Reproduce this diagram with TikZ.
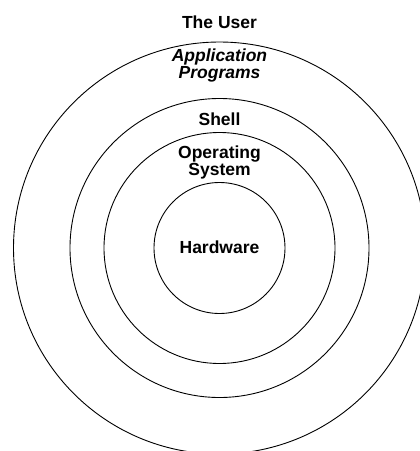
\documentclass[tikz,border=0pt]{standalone}
\usepackage{fontspec}
\setmainfont{Liberation Sans}
\begin{document}
\begin{tikzpicture}[x=1pt,y=-1pt,
  ring/.style={draw=black, line width=0.9pt, circle, inner sep=0pt, outer sep=0pt},
  lbl/.style={font=\fontsize{17.5}{17}\selectfont\bfseries, align=center, inner sep=0pt, anchor=base}]
\useasboundingbox (0,0) rectangle (420,451);
\clip (0,0) rectangle (420,451);
\coordinate (c) at (219.5,248);
\node[ring, minimum size=412pt] (user) at (c) {};
\node[ring, minimum size=299pt] (shell) at (c) {};
\node[ring, minimum size=231pt] (os) at (c) {};
\node[ring, minimum size=131pt] (hw) at (c) {};
\node[lbl] (userlbl) at (219.5,28) {The User};
\node[lbl, font=\fontsize{17.5}{17}\selectfont\bfseries\itshape] (applbl) at (219.5,78.5) {Application\\Programs};
\node[lbl] (shelllbl) at (219.5,125) {Shell};
\node[lbl] (oslbl) at (219.5,175) {Operating\\System};
\node[lbl] (hwlbl) at (219.5,253) {Hardware};
\end{tikzpicture}
\end{document}
